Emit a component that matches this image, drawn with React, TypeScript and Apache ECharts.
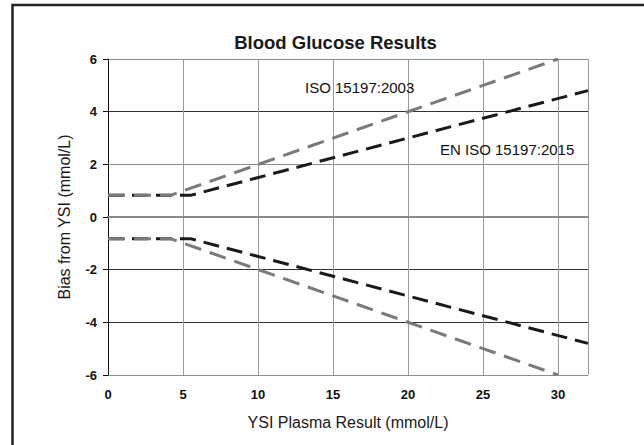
import React, { useEffect, useRef } from "react";
import * as echarts from "echarts";

// ISO 15197:2003 limits: ±0.83 mmol/L below 4.2 mmol/L, ±20% above
const iso2003Upper: [number, number][] = [[0, 0.83], [4.2, 0.83], [30, 6]];
const iso2003Lower: [number, number][] = [[0, -0.83], [4.2, -0.83], [30, -6]];
// EN ISO 15197:2015 limits: ±0.83 mmol/L below 5.55 mmol/L, ±15% above
const iso2015Upper: [number, number][] = [[0, 0.83], [5.55, 0.83], [32, 4.8]];
const iso2015Lower: [number, number][] = [[0, -0.83], [5.55, -0.83], [32, -4.8]];

const titleText = "Blood Glucose Results";
const xName = "YSI Plasma Result (mmol/L)";
const yName = "Bias from YSI (mmol/L)";
const label2003 = "ISO 15197:2003";
const label2015 = "EN ISO 15197:2015";

const FONT = "'Liberation Sans', Arial, sans-serif";

export default function App() {
  const ref = useRef<HTMLDivElement>(null);
  useEffect(() => {
    if (!ref.current) return;
    const chart = echarts.init(ref.current, undefined, { renderer: "svg" });
    const gray = "#7a7a7a";
    const black = "#1a1a1a";
    chart.setOption({
      animation: false,
      backgroundColor: "#ffffff",
      grid: { left: 108, top: 59, right: 56, bottom: 70, containLabel: false },
      xAxis: {
        type: "value",
        min: 0,
        max: 32,
        interval: 5,
        name: xName,
        nameLocation: "middle",
        nameGap: 39,
        nameTextStyle: { fontFamily: FONT, fontSize: 16, color: "#1a1a1a" },
        axisLine: { show: true, lineStyle: { color: "#8a8a8a", width: 2 } },
        axisTick: { show: false },
        axisLabel: {
          fontFamily: FONT,
          fontSize: 13,
          fontWeight: "bold",
          color: "#111",
          margin: 13,
          showMaxLabel: false,
        },
        splitLine: { show: true, lineStyle: { color: "#9a9a9a", width: 1 } },
      },
      yAxis: {
        type: "value",
        min: -6,
        max: 6,
        interval: 2,
        name: yName,
        nameLocation: "middle",
        nameGap: 36,
        nameTextStyle: { fontFamily: FONT, fontSize: 16, color: "#1a1a1a" },
        axisLine: { show: true, lineStyle: { color: "#111", width: 1 } },
        axisTick: { show: true, length: 5, lineStyle: { color: "#111" } },
        axisLabel: {
          fontFamily: FONT,
          fontSize: 13,
          fontWeight: "bold",
          color: "#111",
          margin: 11,
        },
        splitLine: {
          show: true,
          lineStyle: {
            color: ["#8c8c8c", "#333", "#333", "#8c8c8c", "#8c8c8c", "#333", "#8c8c8c"],
            width: 1,
          },
        },
      },
      series: [
        {
          name: "EN ISO 15197:2015 upper",
          type: "line",
          data: iso2015Upper,
          showSymbol: false,
          z: 2,
          lineStyle: { color: black, width: 3, type: [16, 8] },
        },
        {
          name: "EN ISO 15197:2015 lower",
          type: "line",
          data: iso2015Lower,
          showSymbol: false,
          z: 2,
          lineStyle: { color: black, width: 3, type: [16, 8] },
        },
        {
          name: "ISO 15197:2003 upper",
          type: "line",
          data: iso2003Upper,
          showSymbol: false,
          z: 3,
          lineStyle: { color: gray, width: 3, type: [17, 9] },
        },
        {
          name: "ISO 15197:2003 lower",
          type: "line",
          data: iso2003Lower,
          showSymbol: false,
          z: 3,
          lineStyle: { color: gray, width: 3, type: [17, 9] },
        },
      ],
      graphic: [
        {
          type: "rect",
          silent: true,
          shape: { x: 12.5, y: 5, width: 700, height: 500 },
          style: { fill: "none", stroke: "#222", lineWidth: 2.5 },
        },
        {
          type: "text",
          x: 335.5,
          y: 42,
          style: {
            text: titleText,
            font: `bold 18.5px ${FONT}`,
            fill: "#1a1a1a",
            align: "center",
            verticalAlign: "middle",
            textAlign: "center",
            textVerticalAlign: "middle",
          },
        },
        {
          type: "text",
          x: 305,
          y: 87,
          z: 10,
          style: {
            text: label2003,
            font: `15px ${FONT}`,
            fill: "#111",
            align: "left",
            verticalAlign: "middle",
            textAlign: "left",
            textVerticalAlign: "middle",
          },
        },
        {
          type: "text",
          x: 440,
          y: 149,
          z: 10,
          style: {
            text: label2015,
            font: `15px ${FONT}`,
            fill: "#111",
            align: "left",
            verticalAlign: "middle",
            textAlign: "left",
            textVerticalAlign: "middle",
          },
        },
      ],
    });
    return () => chart.dispose();
  }, []);
  return (
    <div
      ref={ref}
      style={{ position: "absolute", left: 0, top: 0, width: 644, height: 445, background: "#fff" }}
    />
  );
}
